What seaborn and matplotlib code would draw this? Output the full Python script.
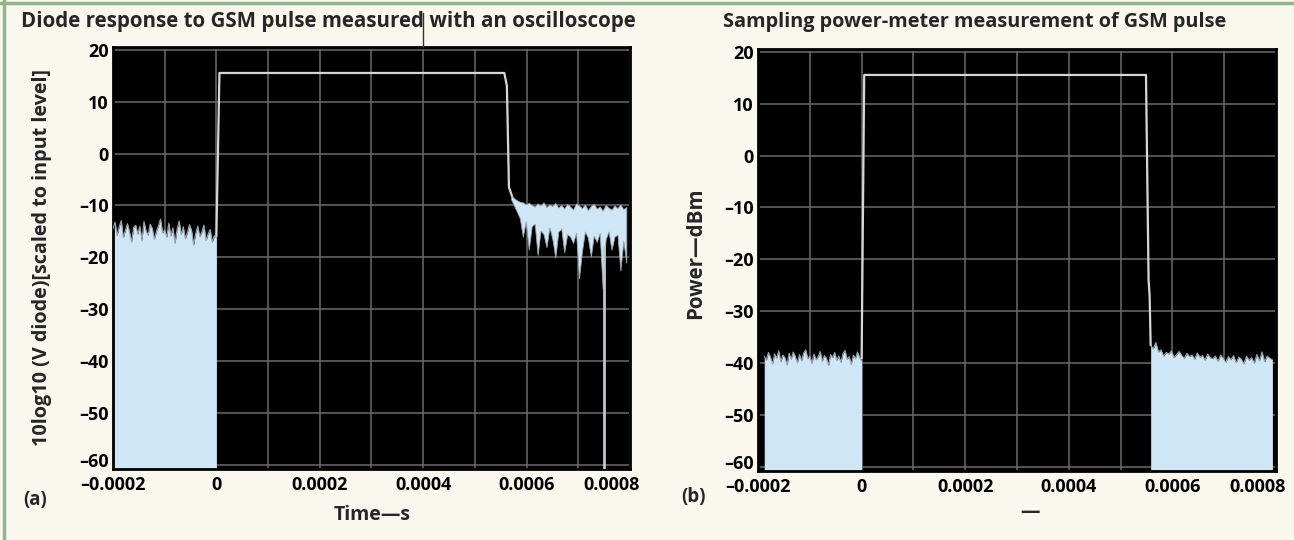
import numpy as np
import matplotlib
matplotlib.use("Agg")
import matplotlib.pyplot as plt
import matplotlib.transforms as mtransforms
from matplotlib.lines import Line2D
import seaborn as sns

X_TICKS = [-0.0002, 0.0, 0.0002, 0.0004, 0.0006, 0.0008]
X_TICK_LABELS = ["–0.0002", "0", "0.0002", "0.0004", "0.0006", "0.0008"]
Y_TICKS = [20, 10, 0, -10, -20, -30, -40, -50, -60]
Y_TICK_LABELS = ["20", "10", "0", "–10", "–20", "–30", "–40", "–50", "–60"]

# (a) diode / oscilloscope
a_pre_span = (-0.0002, 0.0)
a_pre_level = [-14.5, -13.2, -15.8, -14.1, -12.9, -16.2, -14.8, -13.5, -15.1, -17.0,
               -14.2, -13.8, -15.5, -14.0, -16.8, -13.1, -14.9, -15.7, -13.6, -14.4,
               -16.5, -15.0, -13.9, -12.6, -15.3, -14.7, -16.1, -13.4, -15.9, -14.3,
               -17.3, -14.6, -13.0, -15.6, -14.1, -16.4, -15.2, -13.7, -14.8, -17.6,
               -15.4, -14.0, -16.0, -15.1, -13.8, -16.7, -15.5, -14.6, -17.1, -15.8, -16.3]
a_pulse_t = [0.0, 0.000006, 0.000557, 0.000562, 0.000566, 0.000572]
a_pulse_y = [-16.0, 15.5, 15.5, 13.0, -6.5, -8.2]
a_post_span = (0.000570, 0.000793)
a_post_upper = [-8.0, -8.6, -9.0, -9.3, -9.4, -9.8, -9.5, -9.9, -10.2, -9.6,
                -10.0, -9.4, -10.3, -9.8, -10.1, -9.5, -10.4, -9.9, -10.6, -9.7,
                -10.2, -10.8, -9.6, -10.0, -10.5, -9.8, -10.9, -10.1, -9.7, -10.6,
                -10.2, -11.0, -9.9, -10.4, -10.8, -10.0, -10.5, -9.8, -10.7, -10.3]
a_post_lower = [-8.8, -10.0, -11.2, -12.5, -16.0, -13.0, -18.5, -14.0, -13.5, -19.5,
                -14.8, -15.5, -18.0, -14.2, -16.5, -20.0, -15.0, -14.5, -19.0, -15.5,
                -16.0, -17.2, -15.2, -24.0, -18.8, -15.0, -16.2, -19.8, -15.8, -17.0,
                -15.3, -26.0, -16.5, -15.0, -18.5, -16.0, -15.6, -22.5, -16.8, -21.0]
a_dropout_t = [0.000750, 0.000750]
a_dropout_y = [-18.0, -61.0]

# (b) sampling power meter
b_pre_span = (-0.000188, 0.0)
b_pre_level = [-38.6, -39.4, -37.9, -38.8, -40.1, -38.2, -39.0, -37.6, -39.7, -38.4,
               -38.9, -40.3, -38.1, -39.2, -37.8, -38.7, -39.9, -38.3, -39.5, -38.0,
               -37.4, -39.1, -38.6, -40.0, -38.2, -39.3, -38.8, -37.7, -39.6, -38.5,
               -39.0, -40.4, -38.3, -38.9, -37.9, -39.4, -38.6, -39.8, -38.1, -37.5,
               -39.2, -38.7, -40.2, -38.4, -39.1, -37.8, -38.9, -39.5]
b_pulse_t = [0.0, 0.000005, 0.000549, 0.000554, 0.000556, 0.000558]
b_pulse_y = [-39.0, 15.5, 15.5, -24.0, -27.0, -36.5]
b_post_span = (0.000558, 0.000793)
b_post_level = [-36.5, -37.2, -36.0, -37.8, -37.4, -38.6, -37.9, -38.2, -37.6, -38.9,
                -38.3, -37.7, -38.5, -39.0, -38.1, -38.7, -38.4, -39.2, -38.0, -38.8,
                -38.5, -39.4, -38.2, -38.9, -39.1, -38.6, -39.6, -38.4, -39.0, -39.8,
                -38.7, -39.3, -38.5, -39.9, -38.8, -39.2, -40.1, -38.6, -39.4, -38.9,
                -40.0, -38.3, -39.5, -37.8, -39.7, -38.6, -39.0, -39.3]

BG = "#faf8ee"
FILL = "#cfe6f6"
EDGE = "#9aa6ae"
TRACE = "#d6d6d6"
GRID = "#6a6a6a"
BORDER = "#8fb88a"
FLOOR = -61.0

sns.set_theme(style="dark")
plt.rcParams["font.family"] = ["Open Sans", "DejaVu Sans"]
plt.rcParams["font.weight"] = "bold"

fig = plt.figure(figsize=(12.94, 5.40), dpi=100, facecolor=BG)
ax_a = fig.add_axes([0.0873, 0.1315, 0.3995, 0.7815])
ax_b = fig.add_axes([0.5858, 0.1278, 0.4003, 0.7815])


def times(span, values):
    return np.linspace(span[0], span[1], len(values))


def style_axes(ax):
    ax.set_facecolor("black")
    ax.set_xlim(-0.0002, 0.0008)
    ax.set_ylim(-60.7, 20.5)
    ax.set_xticks(X_TICKS)
    ax.set_xticklabels(X_TICK_LABELS)
    ax.set_xticks([-0.0001, 0.0001, 0.0003, 0.0005, 0.0007], minor=True)
    ax.set_yticks(Y_TICKS)
    ax.set_yticklabels(Y_TICK_LABELS)
    ax.tick_params(which="both", length=0, labelsize=13, colors="black")
    ax.tick_params(axis="x", pad=5)
    ax.tick_params(axis="y", pad=3)
    ax.grid(True, which="both", color=GRID, lw=1.1)
    ax.set_axisbelow(True)
    for s in ax.spines.values():
        s.set_visible(True)
        s.set_color("black")
        s.set_linewidth(2)
    xl = ax.get_xticklabels()
    xl[-1].set_ha("right")
    xl[-1].set_transform(xl[-1].get_transform()
                         + mtransforms.ScaledTranslation(7 / 72, 0, fig.dpi_scale_trans))
    yl = ax.get_yticklabels()
    yl[-1].set_transform(yl[-1].get_transform()
                         + mtransforms.ScaledTranslation(0, 4 / 72, fig.dpi_scale_trans))
    for t in xl + yl:
        t.set_fontweight("bold")
    ax.set_xlabel("")
    ax.set_ylabel("")


# --- panel (a) ---
style_axes(ax_a)
t = times(a_pre_span, a_pre_level)
ax_a.fill_between(t, a_pre_level, FLOOR, color=FILL, lw=0, zorder=2)
sns.lineplot(x=t, y=a_pre_level, ax=ax_a, color=EDGE, lw=0.8, sort=False, estimator=None, zorder=3)
sns.lineplot(x=a_pulse_t, y=a_pulse_y, ax=ax_a, color=TRACE, lw=1.6, sort=False, estimator=None, zorder=4)
t = times(a_post_span, a_post_upper)
ax_a.fill_between(t, a_post_upper, a_post_lower, color=FILL, lw=0.6, edgecolor=EDGE, zorder=3)
sns.lineplot(x=a_dropout_t, y=a_dropout_y, ax=ax_a, color="#bfc6cc", lw=2.0, sort=False, estimator=None, zorder=3)
ax_a.plot([0.0004, 0.0004], [20.5, 27.0], color="#333333", lw=1, clip_on=False, zorder=5)
ax_a.set_xlabel("")
ax_a.set_ylabel("10log10 (V diode)[scaled to input level]", fontsize=14.2, fontweight="bold")
ax_a.yaxis.set_label_coords(-0.118, 0.5)

# --- panel (b) ---
style_axes(ax_b)
t = times(b_pre_span, b_pre_level)
ax_b.fill_between(t, b_pre_level, FLOOR, color=FILL, lw=0, zorder=2)
sns.lineplot(x=t, y=b_pre_level, ax=ax_b, color=EDGE, lw=0.8, sort=False, estimator=None, zorder=3)
sns.lineplot(x=b_pulse_t, y=b_pulse_y, ax=ax_b, color=TRACE, lw=1.6, sort=False, estimator=None, zorder=4)
t = times(b_post_span, b_post_level)
ax_b.fill_between(t, b_post_level, FLOOR, color=FILL, lw=0, zorder=2)
sns.lineplot(x=t, y=b_post_level, ax=ax_b, color=EDGE, lw=0.8, sort=False, estimator=None, zorder=3)
ax_b.set_xlabel("")
ax_b.set_ylabel("Power—dBm", fontsize=14.8, fontweight="bold")
ax_b.yaxis.set_label_coords(-0.1, 0.517)

# --- figure text ---
fig.text(328 / 1294, 1 - 22 / 540, "Diode response to GSM pulse measured with an oscilloscope",
         ha="center", va="center", fontsize=14.8, fontweight="bold")
fig.text(975 / 1294, 1 - 22 / 540, "Sampling power-meter measurement of GSM pulse",
         ha="center", va="center", fontsize=14.3, fontweight="bold")
fig.text(372 / 1294, 1 - 515 / 540, "Time—s", ha="center", va="center", fontsize=14, fontweight="bold")
fig.text(1030 / 1294, 1 - 512 / 540, "—", ha="center", va="center", fontsize=14, fontweight="bold")
fig.text(35 / 1294, 1 - 500 / 540, "(a)", ha="center", va="center", fontsize=13.5, fontweight="bold")
fig.text(693 / 1294, 1 - 497 / 540, "(b)", ha="center", va="center", fontsize=13.5, fontweight="bold")

# green frame on top and left
fig.add_artist(Line2D([0, 1], [1 - 3 / 540, 1 - 3 / 540], color=BORDER, lw=2.5))
fig.add_artist(Line2D([4 / 1294, 4 / 1294], [0, 1], color=BORDER, lw=2.5))

fig.savefig("out.png", dpi=100, facecolor=BG)
